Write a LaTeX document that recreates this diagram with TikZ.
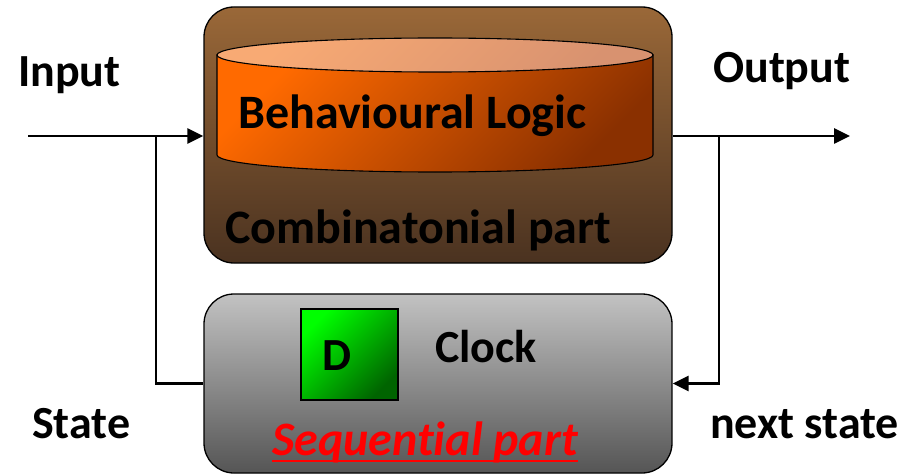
\documentclass[tikz,border=0pt]{standalone}
\usepackage{fontspec}
\setmainfont{Carlito}[Ligatures=CommonOff]
\usetikzlibrary{arrows.meta,calc}
\definecolor{brownA}{HTML}{9A6838}
\definecolor{brownB}{HTML}{4A3220}
\definecolor{orA}{HTML}{FF6A00}
\definecolor{orB}{HTML}{8A3000}
\definecolor{topA}{HTML}{F8AA74}
\definecolor{topB}{HTML}{D89270}
\definecolor{grayA}{HTML}{C2C2C2}
\definecolor{grayB}{HTML}{555555}
\definecolor{greenA}{HTML}{00FF00}
\definecolor{greenB}{HTML}{006400}
\definecolor{seqred}{HTML}{FF0000}
\begin{document}
\begin{tikzpicture}[x=1pt,y=1pt,
  bigbox/.style={draw=black,line width=1.3pt,rounded corners=30pt,minimum width=468pt,inner sep=0pt,shading angle=45},
  lbl/.style={anchor=base west,inner sep=0pt,font=\fontsize{46}{52}\selectfont\bfseries},
  boxtxt/.style={anchor=base west,inner sep=0pt,font=\fontsize{48}{54}\selectfont\bfseries},
  conn/.style={line width=2.6pt,line join=miter},
  tip/.style={-{Triangle[length=16pt,width=15pt]}}]
\path[use as bounding box] (0,0) rectangle (919,475);

% combinational box
\node[bigbox,minimum height=256pt,top color=brownA,bottom color=brownB] (comb) at (438,340) {};
% cylinder
\path[draw=black,line width=1.1pt,top color=orA,bottom color=orB,shading angle=45]
  (217,420) -- (217,320) arc[start angle=180,end angle=360,x radius=218,y radius=17] -- (653,420) -- cycle;
\path[draw=black,line width=1.1pt,top color=topA,bottom color=topB,shading angle=45]
  (435,420) ellipse[x radius=218,y radius=17];
\node[boxtxt] (beh) at (238,346) {Behavioural Logic};
\node[boxtxt] (combtxt) at (225,232) {Combinatonial part};

% sequential box
\node[bigbox,minimum height=179pt,top color=grayA,bottom color=grayB] (seqbox) at (438,91.5) {};
\node[draw=black,line width=1.3pt,minimum width=97pt,minimum height=91pt,inner sep=0pt,
      top color=greenA,bottom color=greenB,shading angle=45] (dff) at (349.5,120.5) {};
\node[lbl] (d) at (322,105) {D};
\node[lbl] (clock) at (435,113) {Clock};
\node[anchor=base west,inner sep=0pt,text=seqred,font=\fontsize{48}{54}\selectfont\bfseries\itshape] (seq) at (272,20) {Sequent\kern0pt ial part};
\draw[seqred,line width=2.6pt] ($(seq.base west)+(0,-6)$) -- ($(seq.base east)+(0,-6)$);

% labels
\node[lbl] (input) at (18,388) {Input};
\node[lbl] (output) at (713,392) {Output};
\node[lbl] (state) at (32,37) {State};
\node[lbl] (next) at (710,37) {next state};

% connectors
\coordinate (inStart) at (28,339);
\coordinate (jl) at (156,339);
\coordinate (outEnd) at (850,339);
\coordinate (jr) at (719,339);
\draw[conn,tip] (inStart) -- (inStart -| comb.west);
\draw[conn] (jl) |- (seqbox.west);
\draw[conn,tip] (outEnd -| comb.east) -- (outEnd);
\draw[conn,tip] (jr) |- (seqbox.east);
\end{tikzpicture}
\end{document}
